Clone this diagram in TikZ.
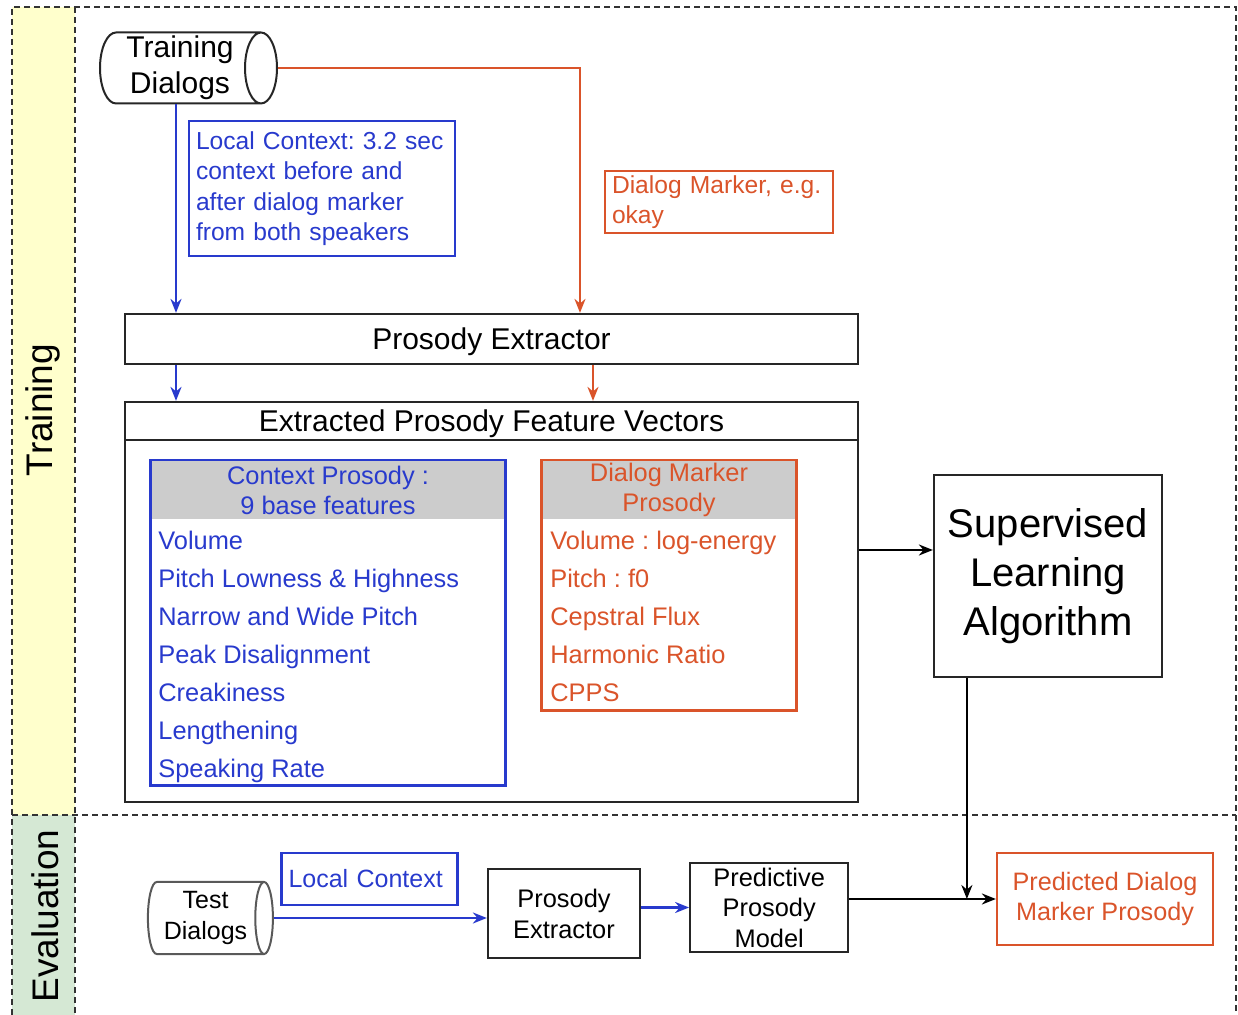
\documentclass[tikz,border=0pt]{standalone}
\usepackage{fontspec}
\setmainfont{Liberation Sans}
\usetikzlibrary{positioning, shapes.geometric, arrows.meta}
\definecolor{ctxblue}{RGB}{40,58,205}
\definecolor{dmorange}{RGB}{218,84,42}
\definecolor{bandyellow}{RGB}{255,255,204}
\definecolor{bandgreen}{RGB}{213,232,212}
\definecolor{headgray}{RGB}{204,204,204}
\tikzset{frame/.style={draw=black!80, line width=1pt, dash pattern=on 3pt off 2pt},
         block/.style={rectangle, draw=black!85, line width=1.1pt, align=center, inner sep=0pt},
         dbase/.style={cylinder, draw=black!85, line width=1pt, align=center, inner sep=0pt},
         notebox/.style={rectangle, line width=1.1pt, align=left, inner xsep=3.5pt, inner ysep=0pt, text width=#1},
         headbox/.style={rectangle, fill=headgray, inner sep=0pt, align=center},
         item/.style={anchor=base west, inner sep=0pt, font=\fontsize{12.7}{14}\selectfont},
         arr/.style={line width=1.1pt, -{Stealth[length=7pt, width=5.5pt]}}}
\frenchspacing

\begin{document}
\begin{tikzpicture}[x=0.5pt, y=-0.5pt]
        \useasboundingbox (0,0) rectangle (1238,1015);
        % swim lanes
        \fill[bandyellow] (12,7) rectangle (75,815);
        \fill[bandgreen] (12,815) rectangle (75,1015);
        \draw[frame] (12,1015) -- (12,7) -- (1236,7) -- (1236,1015);
        \draw[frame] (75,7) -- (75,1015);
        \draw[frame] (12,815) -- (1236,815);
        \node (trainlbl)[rotate=90, font=\fontsize{18.5}{20}\selectfont] at (43,410) {Training};
        \node (evallbl)[rotate=90, font=\fontsize{18.5}{20}\selectfont] at (45,916) {Evaluation};

        % training
        \node (traindb)[dbase, minimum height=88.5pt, minimum width=35.5pt, shape aspect=0.5, font=\fontsize{15}{18}\selectfont] at (180,68) {Training\\Dialogs};
        \node (extr)[block, minimum width=366.5pt, minimum height=25pt, text depth=0pt, font=\fontsize{15}{17}\selectfont] at (491.5,339) {Prosody Extractor};
        \coordinate (bluecol) at (176,0);
        \coordinate (orangecol) at (580,0);
        \draw [arr, ctxblue] (traindb.south -| bluecol) -- (extr.north -| bluecol);
        \draw [arr, dmorange] (traindb.east) -| (extr.north -| orangecol);
        \node (ctxnote)[notebox=126pt, draw=ctxblue, text=ctxblue, minimum height=67.5pt, font=\fontsize{12.3}{15.2}\selectfont] at (322,188.5) {Local Context: 3.2 sec\\context before and\\after dialog marker\\from both speakers};
        \node (dmnote)[notebox=107pt, draw=dmorange, text=dmorange, minimum height=31pt, font=\fontsize{12.3}{15}\selectfont] at (719,202) {Dialog Marker, e.g.\\okay};

        \node (fv)[block, minimum width=366.5pt, minimum height=200pt] at (491.5,602) {};
        \node (fvtitle)[block, anchor=north, minimum width=366.5pt, minimum height=19pt, text depth=0pt, font=\fontsize{15}{17}\selectfont] at (fv.north) {Extracted Prosody Feature Vectors};
        \coordinate (dmcol) at (593,0);
        \draw [arr, ctxblue] (extr.south -| bluecol) -- (fv.north -| bluecol);
        \draw [arr, dmorange] (extr.south -| dmcol) -- (fv.north -| dmcol);

        % context prosody
        \node (ctxbox)[block, draw=ctxblue, minimum width=177pt, minimum height=162pt] at (328,623) {};
        \node (ctxhead)[headbox, anchor=north, minimum width=176pt, minimum height=29pt, text=ctxblue, font=\fontsize{12.7}{15}\selectfont] at ([yshift=-0.5pt]ctxbox.north) {Context Prosody :\\9 base features};
        \draw [ctxblue, line width=1.1pt] (ctxbox.north west) rectangle (ctxbox.south east);
        \foreach \feat [count=\i] in {Volume, Pitch Lowness \& Highness, Narrow and Wide Pitch, Peak Disalignment, Creakiness, Lengthening, Speaking Rate}
            \node (ctx\i)[item, text=ctxblue] at (158,511.5+38*\i) {\feat};

        % dialog marker prosody
        \node (dmbox)[block, draw=dmorange, minimum width=127pt, minimum height=124.5pt] at (669,585.5) {};
        \node (dmhead)[headbox, anchor=north, minimum width=126pt, minimum height=29pt, text=dmorange, font=\fontsize{12.7}{15}\selectfont] at ([yshift=-0.5pt]dmbox.north) {Dialog Marker\\Prosody};
        \draw [dmorange, line width=1.1pt] (dmbox.north west) rectangle (dmbox.south east);
        \foreach \feat [count=\i] in {Volume : log-energy, Pitch : f0, Cepstral Flux, Harmonic Ratio, CPPS}
            \node (dm\i)[item, text=dmorange] at (550,511.5+38*\i) {\feat};

        \node (sla)[block, minimum width=114pt, minimum height=101pt, font=\fontsize{20}{24.5}\selectfont] at (1048,576) {Supervised\\Learning\\Algorithm};
        \coordinate (slain) at ([yshift=13pt]sla.west);
        \draw [arr] (fv.east |- slain) -- (slain);

        % evaluation
        \node (testdb)[dbase, draw=black!65, minimum height=62.5pt, minimum width=36pt, shape aspect=0.33, font=\fontsize{12.5}{15.5}\selectfont] at (205.5,918) {Test\\Dialogs};
        \node (locnote)[notebox=81pt, draw=ctxblue, text=ctxblue, minimum height=26pt, font=\fontsize{12.5}{14}\selectfont] at (369.5,879) {Local Context};
        \node (extr2)[block, minimum width=76pt, minimum height=44.5pt, font=\fontsize{12.7}{15.5}\selectfont] at (564,913.5) {Prosody\\Extractor};
        \node (ppm)[block, right=24pt of extr2, yshift=3pt, minimum width=79pt, minimum height=44.5pt, font=\fontsize{12.7}{15.25}\selectfont] {Predictive\\Prosody\\Model};
        \node (pdm)[block, draw=dmorange, text=dmorange, minimum width=108pt, minimum height=46pt, font=\fontsize{12.6}{15}\selectfont] at (1105,899) {Predicted Dialog\\Marker Prosody};
        \coordinate (slaout) at ([xshift=17pt]sla.south west);
        \draw [arr, ctxblue] (testdb.east) -- (testdb.east -| extr2.west);
        \draw [arr, ctxblue] (extr2.east |- ppm.west) -- (ppm.west);
        \draw [arr] (ppm.east |- pdm.west) -- (pdm.west);
        \draw [arr] (slaout) -- (slaout |- pdm.west);
    \end{tikzpicture}
\end{document}
